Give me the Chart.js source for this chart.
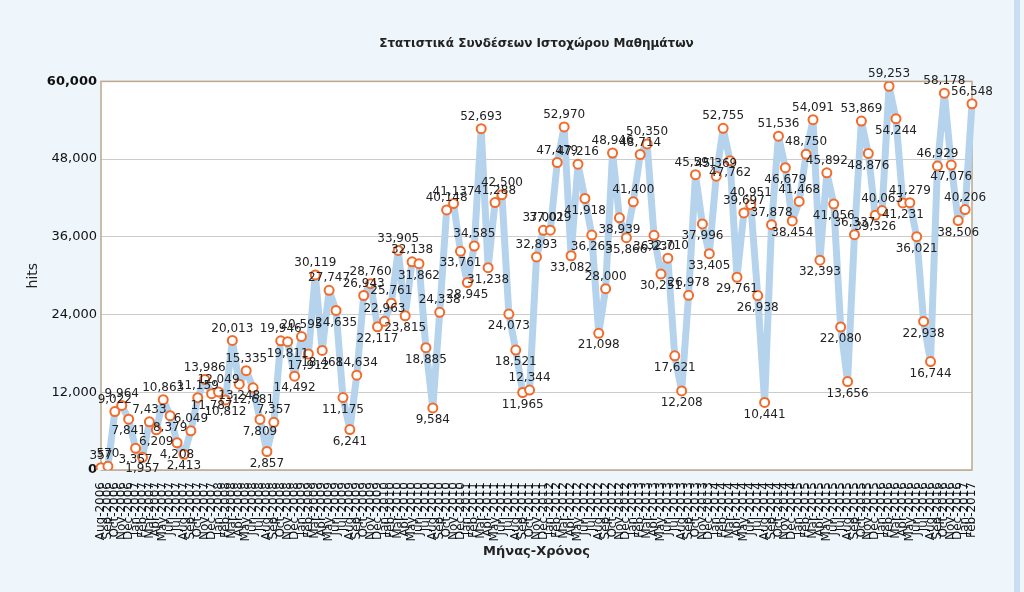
<!DOCTYPE html>
<html>
<head>
<meta charset="utf-8">
<script src="https://cdn.jsdelivr.net/npm/chart.js@4/dist/chart.umd.min.js"></script>
<style>
  html, body { margin: 0; padding: 0; background: #eef5fb; overflow: hidden; }
  #wrap { position: absolute; left: 0; top: 0; width: 1010px; height: 592px; }
  #edge { position: absolute; left: 1014px; top: 0; width: 6px; height: 592px; background: #c9def2; }
</style>
</head>
<body>
<div id="wrap"><canvas id="hitsChart" width="1010" height="592"></canvas></div>
<div id="edge"></div>
<script>
// monthly hits, Aug 2006 - Feb 2017
const monthNames = ["Jan", "Feb", "Mar", "Apr", "May", "Jun", "Jul", "Aug", "Sep", "Oct", "Nov", "Dec"];
const firstYear = 2006;
const firstMonth = 7; // Aug

const hits = [
  357, 570, 9022, 9964, 7841, 3357, 1957, 7433, 6209, 10863,
  8379, 4208, 2413, 6049, 11159, 13986, 11787, 12049, 10812, 20013,
  13248, 15335, 12681, 7809, 2857, 7357, 19946, 19811, 14492, 20595,
  17912, 30119, 18468, 27747, 24635, 11175, 6241, 14634, 26943, 28760,
  22117, 22963, 25761, 33905, 23815, 32138, 31862, 18885, 9584, 24338,
  40148, 41137, 33761, 28945, 34585, 52693, 31238, 41288, 42500, 24073,
  18521, 11965, 12344, 32893, 37001, 37029, 47479, 52970, 33082, 47216,
  41918, 36265, 21098, 28000, 48946, 38939, 35866, 41400, 48714, 50350,
  36230, 30251, 32710, 17621, 12208, 26978, 45591, 37996, 33405, 45369,
  52755, 47762, 29761, 39697, 40951, 26938, 10441, 37878, 51536, 46679,
  38454, 41468, 48750, 54091, 32393, 45892, 41056, 22080, 13656, 36337,
  53869, 48876, 39326, 40063, 59253, 54244, 41231, 41279, 36021, 22938,
  16744, 46929, 58178, 47076, 38506, 40206, 56548
];

const yTicks = [0, 12000, 24000, 36000, 48000, 60000];

const months = [];
for (let i = 0; i < hits.length; i++) {
  const m = firstMonth + i;
  months.push(monthNames[m % 12] + "-" + (firstYear + Math.floor(m / 12)));
}

const fmt = v => v.toLocaleString("en-US");

const plotFrame = {
  id: "plotFrame",
  beforeDraw(chart) {
    const a = chart.chartArea;
    const ctx = chart.ctx;
    ctx.save();
    ctx.fillStyle = "#ffffff";
    ctx.fillRect(a.left, a.top, a.right - a.left, a.bottom - a.top);
    ctx.restore();
  },
  beforeDatasetsDraw(chart) {
    const a = chart.chartArea;
    const ctx = chart.ctx;
    ctx.save();
    ctx.strokeStyle = "#bba88f";
    ctx.lineWidth = 1.5;
    ctx.strokeRect(a.left, a.top, a.right - a.left, a.bottom - a.top);
    ctx.restore();
  }
};

const pointLabels = {
  id: "pointLabels",
  afterDatasetsDraw(chart) {
    const ctx = chart.ctx;
    const meta = chart.getDatasetMeta(0);
    ctx.save();
    ctx.font = '12px "DejaVu Sans"';
    ctx.fillStyle = "#222";
    ctx.textAlign = "center";
    ctx.textBaseline = "middle";
    meta.data.forEach((pt, i) => {
      const v = hits[i];
      const below = i > 0 && v < hits[i - 1];
      ctx.fillText(fmt(v), pt.x, pt.y + (below ? 12 : -12));
    });
    ctx.restore();
  }
};

new Chart(document.getElementById("hitsChart"), {
  type: "line",
  data: {
    labels: months,
    datasets: [{
      label: "hits",
      data: hits,
      borderColor: "#b5d3ec",
      borderWidth: 7,
      borderJoinStyle: "round",
      borderCapStyle: "round",
      tension: 0,
      pointRadius: 4.5,
      pointBorderWidth: 2,
      pointBorderColor: "#f26b2a",
      pointBackgroundColor: "#ffffff"
    }]
  },
  options: {
    responsive: false,
    animation: false,
    layout: { padding: { left: 21, right: 38, top: 7, bottom: 29 } },
    plugins: {
      legend: { display: false },
      tooltip: { enabled: false },
      title: {
        display: true,
        text: "Στατιστικά Συνδέσεων Ιστοχώρου Μαθημάτων",
        fullSize: false,
        color: "#222",
        font: { family: "DejaVu Sans", size: 12, weight: "bold" },
        padding: { top: 30, bottom: 30 }
      }
    },
    scales: {
      x: {
        offset: false,
        grid: { display: false },
        border: { display: false },
        ticks: {
          autoSkip: false,
          minRotation: 90,
          maxRotation: 90,
          padding: 4,
          color: "#111",
          font: { family: "DejaVu Sans", size: 12 }
        },
        title: {
          display: true,
          text: "Μήνας-Χρόνος",
          color: "#222",
          font: { family: "DejaVu Sans", size: 13, weight: "bold" }
        },
        afterFit(scale) { scale.height = 93; }
      },
      y: {
        min: yTicks[0],
        max: yTicks[yTicks.length - 1],
        afterBuildTicks(scale) { scale.ticks = yTicks.map(v => ({ value: v })); },
        grid: { color: "#cccccc", drawTicks: false },
        border: { display: false },
        ticks: {
          padding: 4,
          color: "#111",
          callback: v => fmt(v),
          font: ctx => ({
            family: "DejaVu Sans",
            size: 13,
            weight: (ctx.tick && (ctx.tick.value === yTicks[0] || ctx.tick.value === yTicks[yTicks.length - 1])) ? "bold" : "normal"
          })
        },
        title: {
          display: true,
          text: "hits",
          color: "#222",
          font: { family: "DejaVu Sans", size: 14 }
        },
        afterFit(scale) { scale.width = 80; }
      }
    }
  },
  plugins: [plotFrame, pointLabels]
});
</script>
</body>
</html>
